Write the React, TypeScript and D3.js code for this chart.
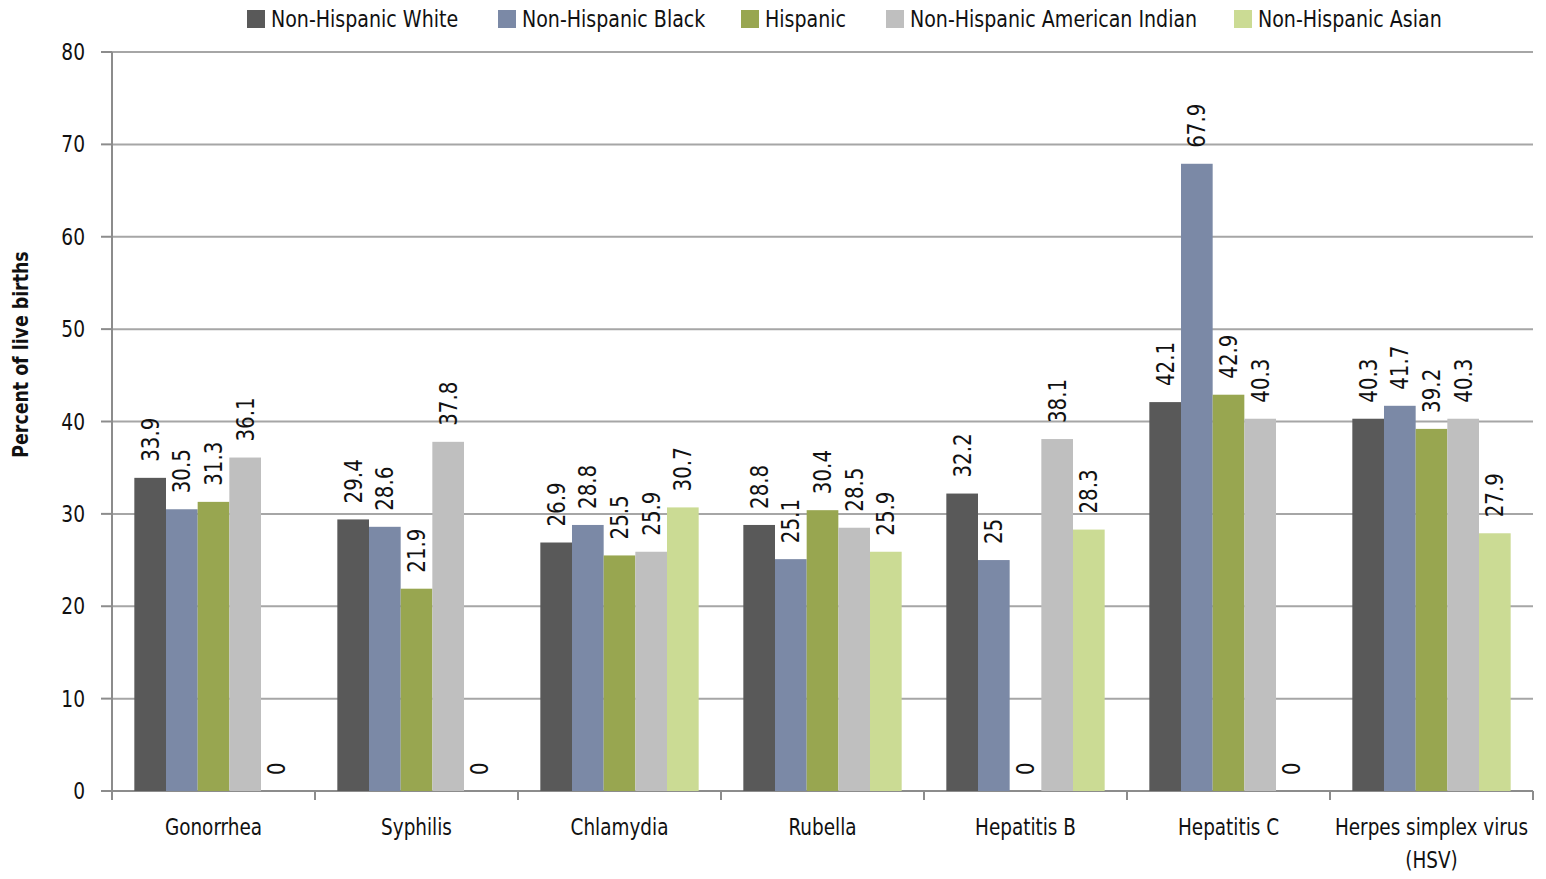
import React from "react";
import * as d3 from "d3";

const categories = ["Gonorrhea", "Syphilis", "Chlamydia", "Rubella", "Hepatitis B", "Hepatitis C", "Herpes simplex virus (HSV)"];
const categoryLines = [["Gonorrhea"], ["Syphilis"], ["Chlamydia"], ["Rubella"], ["Hepatitis B"], ["Hepatitis C"], ["Herpes simplex virus", "(HSV)"]];
const seriesNames = ["Non-Hispanic White", "Non-Hispanic Black", "Hispanic", "Non-Hispanic American Indian", "Non-Hispanic Asian"];
const seriesColors = ["#595959", "#7b89a6", "#98a650", "#bfbfbf", "#cbdb94"];
const nhWhite = [33.9, 29.4, 26.9, 28.8, 32.2, 42.1, 40.3];
const nhBlack = [30.5, 28.6, 28.8, 25.1, 25, 67.9, 41.7];
const hispanic = [31.3, 21.9, 25.5, 30.4, 0, 42.9, 39.2];
const nhAmInd = [36.1, 37.8, 25.9, 28.5, 38.1, 40.3, 40.3];
const nhAsian = [0, 0, 30.7, 25.9, 28.3, 0, 27.9];
const seriesValues = [nhWhite, nhBlack, hispanic, nhAmInd, nhAsian];
const yTicks = [0, 10, 20, 30, 40, 50, 60, 70, 80];
const legendX = [247, 498, 741, 886, 1234];

const FONT = "'Liberation Sans Narrow', 'DejaVu Sans Condensed', 'Roboto Condensed', sans-serif";
const SQ = 0.9;

export default function App() {
  const W = 1546, H = 879;
  const left = 112, right = 1533, top = 52, bottom = 791;
  const x = d3.scaleBand<string>().domain(categories).range([left, right]).paddingInner(0.22).paddingOuter(0.11);
  const xs = d3.scaleBand<string>().domain(seriesNames).range([0, x.bandwidth()]).padding(0);
  const y = d3.scaleLinear().domain([0, 80]).range([bottom, top]);
  const step = x.step();
  const boundaries = d3.range(categories.length + 1).map((i) => left + i * step);

  return (
    <svg width={W} height={H} style={{ position: "absolute", left: 0, top: 0, display: "block", background: "#fff" }} fontFamily={FONT}>
      {yTicks.map((t) => (
        <g key={t}>
          <line x1={left} x2={right} y1={y(t)} y2={y(t)} stroke="#a6a6a6" strokeWidth={2} />
          <line x1={101} x2={left} y1={y(t)} y2={y(t)} stroke="#8c8c8c" strokeWidth={2} />
          <text transform={`translate(85,${y(t)}) scale(${SQ},1)`} dy="0.35em" textAnchor="end" fontSize={23} fill="#111">{t}</text>
        </g>
      ))}
      <line x1={left} x2={left} y1={top} y2={bottom + 9} stroke="#8c8c8c" strokeWidth={2} />
      <line x1={left} x2={right} y1={bottom} y2={bottom} stroke="#8c8c8c" strokeWidth={2} />
      {boundaries.map((b, i) => (
        <line key={i} x1={b} x2={b} y1={bottom} y2={bottom + 9} stroke="#8c8c8c" strokeWidth={2} />
      ))}
      {categories.map((c, ci) => (
        <g key={c}>
          {seriesNames.map((s, si) => {
            const v = seriesValues[si][ci];
            const bx = (x(c) as number) + (xs(s) as number);
            const bw = xs.bandwidth();
            const cx = bx + bw / 2;
            return (
              <g key={s}>
                {v > 0 && <rect x={bx} y={y(v)} width={bw} height={y(0) - y(v)} fill={seriesColors[si]} />}
                <text transform={`translate(${cx},${y(v) - 16}) rotate(-90) scale(0.92,1)`} dy="0.35em" textAnchor="start" fontSize={24} fill="#111">{String(v)}</text>
              </g>
            );
          })}
          {categoryLines[ci].map((line, li) => (
            <text key={li} transform={`translate(${(x(c) as number) + x.bandwidth() / 2},${835 + li * 33}) scale(0.89,1)`} textAnchor="middle" fontSize={23} fill="#111">{line}</text>
          ))}
        </g>
      ))}
      <text transform={`translate(28,${(top + bottom) / 2 - 67}) rotate(-90) scale(0.92,1)`} textAnchor="middle" fontSize={21} fontWeight="bold" fill="#111">Percent of live births</text>
      {seriesNames.map((s, i) => (
        <g key={s}>
          <rect x={legendX[i]} y={10} width={18} height={18} fill={seriesColors[i]} />
          <text transform={`translate(${legendX[i] + 24},19) scale(0.92,1)`} dy="0.35em" fontSize={23} fill="#111">{s}</text>
        </g>
      ))}
    </svg>
  );
}
